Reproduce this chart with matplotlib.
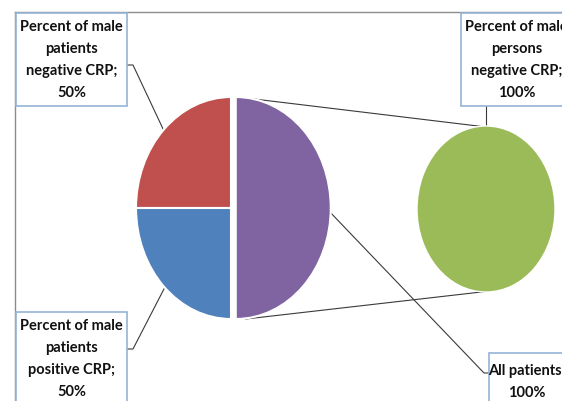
import matplotlib.pyplot as plt
from matplotlib.patches import Rectangle

# -----------------------------
# Data
# -----------------------------
main_labels = ["Percent of male\npatients\nnegative CRP;\n50%",
               "Percent of male\npatients\npositive CRP;\n50%",
               "All patients;\n100%"]
main_values = [25, 25, 50]
main_colors = ["#C0504D", "#4F81BD", "#8064A2"]

sub_labels = ["Percent of male\npersons\nnegative CRP;\n100%"]
sub_values = [100]
sub_colors = ["#9BBB59"]

# -----------------------------
# Figure (pixel coordinates on a background axes)
# -----------------------------
W, H = 562, 401
fig = plt.figure(figsize=(W / 100, H / 100), dpi=100)
bg = fig.add_axes([0, 0, 1, 1])
bg.set_xlim(0, W)
bg.set_ylim(H, 0)
bg.axis("off")

font = dict(family=["Liberation Sans Narrow", "Lato", "DejaVu Sans"], fontsize=10.5,
            fontweight="bold", color="#111111", linespacing=1.7)
line_c = "#3a3a3a"


def pie_axes(cx, cy, rx, ry, pad=1.2):
    # axes stretched so that the unit pie becomes an ellipse rx x ry
    left = (cx - rx * pad) / W
    bottom = 1 - (cy + ry * pad) / H
    a = fig.add_axes([left, bottom, 2 * rx * pad / W, 2 * ry * pad / H])
    return a


# plot frame (cropped chart)
bg.plot([15, W], [12, 12], color="#8c8c8c", lw=1)
bg.plot([15, 15], [12, H], color="#8c8c8c", lw=1)

# -----------------------------
# Main pie
# -----------------------------
mcx, mcy, mrx, mry = 231, 208, 95, 111
ax1 = pie_axes(mcx, mcy, mrx, mry)
ax1.pie(main_values, colors=main_colors, startangle=90, counterclock=True,
        explode=[0, 0, 0.05], wedgeprops=dict(edgecolor="white", linewidth=1.5))
ax1.set_aspect("auto")
ax1.set_xlim(-1.2, 1.2)
ax1.set_ylim(-1.2, 1.2)
ax1.axis("off")

# -----------------------------
# Secondary pie
# -----------------------------
scx, scy, srx, sry = 486, 209, 69, 83
ax2 = pie_axes(scx, scy, srx, sry)
ax2.pie(sub_values, colors=sub_colors, startangle=90,
        wedgeprops=dict(edgecolor="white", linewidth=1.0))
ax2.set_aspect("auto")
ax2.set_xlim(-1.2, 1.2)
ax2.set_ylim(-1.2, 1.2)
ax2.axis("off")

# series lines between the pies
off = 0.05 * mrx
bg.plot([mcx + off + 10, scx], [mcy - mry + 1, scy - sry + 1], color=line_c, lw=0.8)
bg.plot([mcx + off + 10, scx + 4], [mcy + mry, scy + sry - 1], color=line_c, lw=0.8)

# -----------------------------
# Label boxes
# -----------------------------
box_ec = "#95B3D7"


def label_box(x0, y0, w, h, text, ty):
    bg.add_patch(Rectangle((x0, y0), w, h, facecolor="white", edgecolor=box_ec,
                           lw=1.2, zorder=3, clip_on=False))
    bg.text(x0 + w / 2, ty, text, ha="center", va="center", zorder=4, **font)


label_box(16, 13, 111, 93, main_labels[0], 60)
label_box(16, 312, 111, 100, main_labels[1], 359)
label_box(489, 353, 76, 60, main_labels[2], 382)
label_box(461, 13, 111, 93, sub_labels[0], 60)

# leader lines
bg.plot([127, 133, 164], [65, 65, 131], color=line_c, lw=0.8)
bg.plot([127, 133, 165], [349, 349, 287], color=line_c, lw=0.8)
bg.plot([328, 484, 489], [210, 373, 373], color=line_c, lw=0.8)
bg.plot([486, 486], [106, scy - sry + 1], color=line_c, lw=0.8)

plt.savefig("out.png", dpi=100)
